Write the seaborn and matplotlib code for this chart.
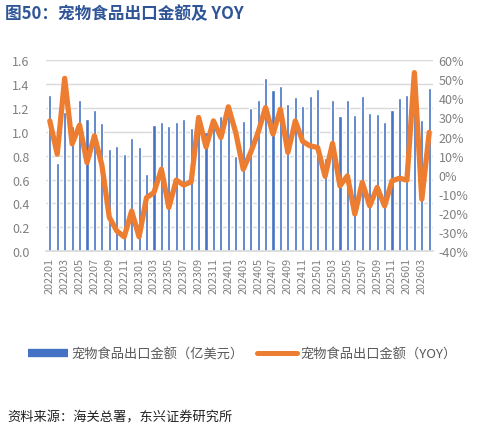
import matplotlib
matplotlib.use('Agg')
import matplotlib.pyplot as plt
import seaborn as sns
import pandas as pd
import numpy as np
from matplotlib.lines import Line2D

months = ['202201', '202202', '202203', '202204', '202205', '202206',
          '202207', '202208', '202209', '202210', '202211', '202212',
          '202301', '202302', '202303', '202304', '202305', '202306',
          '202307', '202308', '202309', '202310', '202311', '202312',
          '202401', '202402', '202403', '202404', '202405', '202406',
          '202407', '202408', '202409', '202410', '202411', '202412',
          '202501', '202502', '202503', '202504', '202505', '202506',
          '202507', '202508', '202509', '202510', '202511', '202512',
          '202601', '202602', '202603', '202604']

# 宠物食品出口金额（亿美元）
export_value = [1.31, 0.74, 1.17, 1.05, 1.27, 1.11, 1.18, 1.07, 0.86, 0.88,
                0.81, 0.95, 0.87, 0.65, 1.06, 1.08, 1.05, 1.08, 1.11, 1.03,
                1.10, 1.00, 1.10, 1.13, 1.18, 0.80, 1.09, 1.20, 1.27, 1.45,
                1.35, 1.38, 1.23, 1.29, 1.22, 1.30, 1.36, 0.78, 1.27, 1.13,
                1.27, 1.14, 1.30, 1.16, 1.15, 1.08, 1.18, 1.28, 1.31, 1.20,
                1.10, 1.37]

# 同比 (%)
export_yoy = [28.2, 10.8, 50.5, 16.2, 26.0, 6.4, 20.4, 5.0, -22.3, -29.4,
              -32.5, -19.0, -32.5, -12.0, -9.3, 2.9, -17.1, -2.8, -5.4, -3.7,
              30.0, 14.6, 28.2, 19.5, 35.6, 22.0, 2.9, 11.7, 22.2, 35.2,
              21.3, 34.3, 11.7, 28.2, 17.4, 15.1, 14.3, -0.8, 16.4, -5.8,
              -0.6, -20.6, -4.0, -16.3, -6.6, -16.3, -3.2, -1.8, -2.8, 53.5,
              -12.8, 22.2]

BLUE = '#4472C4'
ORANGE = '#ED7D31'
GRAY = '#808080'

sns.set_theme(style="white")
plt.rcParams['font.family'] = ['Noto Sans CJK SC', 'DejaVu Sans']

df = pd.DataFrame({'month': months, 'value': export_value,
                   'yoy': export_yoy})
df['pos'] = np.arange(len(df))

fig = plt.figure(figsize=(4.8, 4.31), dpi=100)
ax = fig.add_axes([0.096, 0.415, 0.806, 0.443])

# bars - export value
sns.barplot(data=df, x='pos', y='value', color=BLUE, width=0.42,
            saturation=1, ax=ax, zorder=2)
ax.set_xlim(-0.5, len(df) - 0.5)
ax.set_ylim(0, 1.6)
ax.set_yticks(np.arange(0, 1.61, 0.2))
ax.set_yticklabels([f'{v:.1f}' for v in np.arange(0, 1.61, 0.2)])
ax.yaxis.grid(True, color='#D9D9D9', linewidth=1, zorder=0)
ax.set_axisbelow(True)
ax.set_xticks(df['pos'][::2])
ax.set_xticklabels(df['month'][::2], rotation=90)
ax.set_xlabel('')
ax.set_ylabel('')
for s in ['top', 'right', 'left']:
    ax.spines[s].set_visible(False)
ax.spines['bottom'].set_color('#D9D9D9')
ax.tick_params(axis='y', colors=GRAY, labelsize=9, length=0, pad=12)
ax.tick_params(axis='x', colors=GRAY, labelsize=7.8, length=0, pad=4)

# line - YOY on right axis
ax2 = ax.twinx()
sns.lineplot(data=df, x='pos', y='yoy', color=ORANGE, linewidth=3.8,
             ax=ax2, zorder=3)
ax2.set_ylim(-40, 60)
ax2.set_yticks(np.arange(-40, 61, 10))
ax2.set_yticklabels([f'{v}%' for v in range(-40, 61, 10)])
ax2.set_ylabel('')
ax2.set_xlabel('')
for s in ax2.spines.values():
    s.set_visible(False)
ax2.tick_params(axis='y', colors=GRAY, labelsize=9, length=0, pad=4)

handles = [Line2D([0], [0], color=BLUE, linewidth=6, solid_capstyle='butt'),
           Line2D([0], [0], color=ORANGE, linewidth=3.6)]
labels = ['宠物食品出口金额（亿美元）', '宠物食品出口金额（YOY）']
fig.legend(handles, labels, loc='center', bbox_to_anchor=(0.505, 0.176),
           ncol=2, frameon=False, fontsize=9.5, handlelength=3,
           handletextpad=0.3, columnspacing=1.0, labelcolor='#595959')

fig.text(0.01, 0.967, '图50：宠物食品出口金额及 YOY', fontsize=12,
         fontweight='bold', color='#2F5597', ha='left', va='center')
fig.text(0.015, 0.03, '资料来源：海关总署，东兴证券研究所', fontsize=9.5,
         style='italic', color='#222222', ha='left', va='center')

fig.savefig('out.png', dpi=100)
